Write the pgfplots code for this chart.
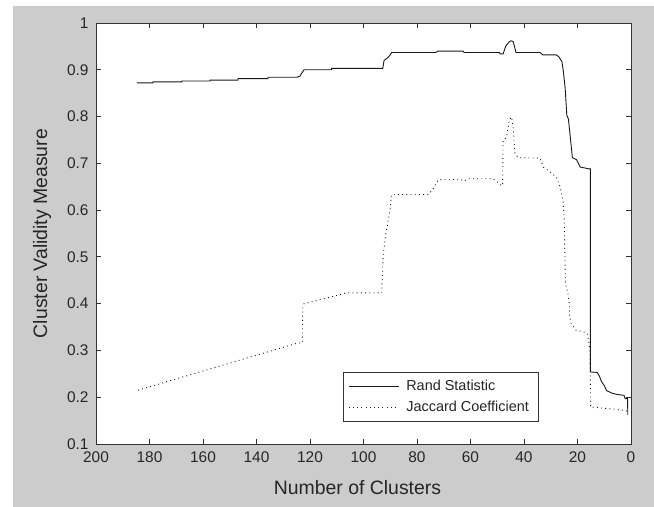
\documentclass[border=0pt]{standalone}
\usepackage{fontspec}
\setmainfont{Liberation Sans}
\usepackage{pgfplots}
\pgfplotsset{compat=1.18}
\definecolor{figgray}{gray}{0.8}
\definecolor{axgray}{gray}{0.2}
\begin{document}
\begin{tikzpicture}
\path[use as bounding box] (0,0) rectangle (654bp,507bp);
\fill[white] (0,0) rectangle (654bp,507bp);
\fill[figgray] (13bp,0) rectangle (654bp,500.5bp);
\begin{axis}[
  at={(96bp,63bp)}, anchor=south west,
  scale only axis, width=535bp, height=421bp,
  x dir=reverse, xmin=0, xmax=200, ymin=0.1, ymax=1,
  xtick={0,20,40,60,80,100,120,140,160,180,200},
  xticklabels={0,20,40,60,80,100,120,140,160,180,200},
  ytick={0.1,0.2,0.3,0.4,0.5,0.6,0.7,0.8,0.9,1},
  yticklabels={0.1,0.2,0.3,0.4,0.5,0.6,0.7,0.8,0.9,1},
  tick align=inside, major tick length=5bp,
  axis background/.style={fill=white},
  axis line style={axgray, line width=0.8bp},
  every tick/.style={axgray, line width=0.8bp},
  /pgf/number format/assume math mode=true,
  ticklabel style={font=\fontsize{15.5}{17}\selectfont, text=black!85},
  xticklabel style={anchor=center, yshift=-13.5bp},
  yticklabel style={anchor=east, xshift=-4bp},
  xlabel={Number of Clusters}, ylabel={Cluster Validity Measure},
  label style={font=\fontsize{19.5}{22}\selectfont, text=black!85},
  xlabel style={at={(axis description cs:0.5,0)}, anchor=center, yshift=-43.5bp, xshift=-6bp},
  ylabel style={at={(axis description cs:0,0.5)}, anchor=center, yshift=54bp},
  legend style={at={(rel axis cs:0.4617,0.0523)}, anchor=south west,
    draw=axgray, line width=0.8bp, fill=white,
    font=\fontsize{14.5}{16}\selectfont, text=black!85,
    inner xsep=5bp, inner ysep=3.5bp, row sep=0bp,
    nodes={text height=10.5bp, text depth=3bp, inner ysep=3.7bp, inner xsep=5bp}},
  legend cell align=left,
  legend image code/.code={\draw[#1] (0bp,0bp) -- (50bp,0bp); \path (52bp,0bp);},
]
\addplot[black!90, line width=0.9bp] coordinates {
(184.7,0.872) (178.7,0.872) (178.7,0.874) (167.9,0.874) (167.9,0.876)
(157.4,0.876) (157.4,0.878) (146.9,0.878) (146.9,0.881) (135.7,0.881)
(135.7,0.884) (124.9,0.884) (123.6,0.887) (123.2,0.892) (122.2,0.900)
(111.9,0.900) (111.9,0.903) (92.8,0.903) (92.3,0.920) (91.3,0.924)
(90.1,0.931) (89.5,0.937) (73.0,0.937) (72.2,0.940) (62.8,0.940)
(62.4,0.937) (49.3,0.937) (48.8,0.934) (47.8,0.934) (46.8,0.951)
(45.5,0.960) (44.8,0.962) (44.0,0.960) (43.0,0.937) (34.0,0.937)
(33.0,0.932) (28.0,0.932) (27.0,0.928) (25.8,0.917) (25.3,0.897)
(24.6,0.860) (24.0,0.803) (23.4,0.795) (22.6,0.751) (21.9,0.712)
(20.4,0.708) (19.0,0.692) (15.5,0.688) (15.2,0.688) (15.2,0.254)
(12.6,0.253) (11.8,0.245) (11.0,0.233) (10.1,0.226) (9.1,0.214)
(7.2,0.209) (5.3,0.206) (2.6,0.204) (2.2,0.197) (1.3,0.197) (1.2,0.165)
};
\addlegendentry{Rand Statistic}
\addplot[black!90, line width=0.9bp, dash pattern=on 0.9bp off 3.3bp] coordinates {
(184.3,0.215) (124.5,0.316) (122.9,0.316) (122.7,0.393) (122.2,0.400)
(106.3,0.423) (93.2,0.423) (92.6,0.507) (91.6,0.550) (90.1,0.600)
(89.5,0.633) (75.8,0.633) (73.9,0.646) (72.0,0.665) (63.9,0.666)
(62.5,0.662) (61.0,0.667) (51.6,0.667) (50.0,0.660) (48.3,0.652)
(48.0,0.653) (47.8,0.749) (46.5,0.756) (45.5,0.792) (44.6,0.799)
(44.0,0.771) (43.4,0.721) (42.1,0.712) (34.0,0.711) (32.8,0.692)
(30.3,0.682) (28.0,0.671) (26.5,0.650) (25.4,0.620) (25.0,0.585)
(24.7,0.500) (24.5,0.443) (23.6,0.422) (23.0,0.397) (23.0,0.375)
(22.4,0.358) (20.5,0.343) (17.8,0.340) (16.3,0.336) (15.3,0.300)
(15.1,0.179) (14.7,0.179) (2.2,0.172) (1.3,0.170) (1.2,0.162)
};
\addlegendentry{Jaccard Coefficient}
\end{axis}
\end{tikzpicture}
\end{document}
